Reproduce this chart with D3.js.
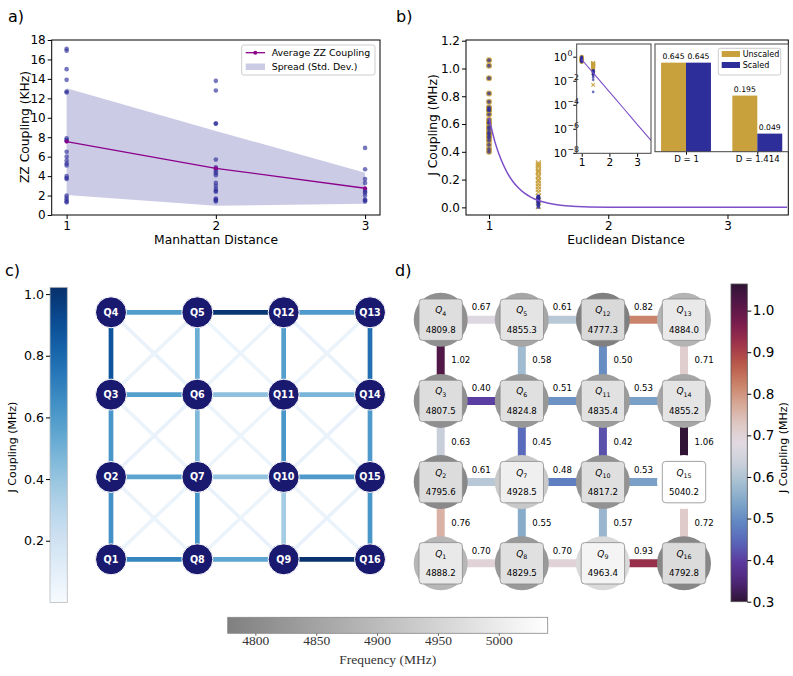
<!DOCTYPE html>
<html><head><meta charset="utf-8">
<script src="https://cdn.jsdelivr.net/npm/d3@7"></script>
<style>
body{margin:0;background:#fff}
text{font-family:"DejaVu Sans",sans-serif}
</style></head><body>
<svg id="fig" width="793" height="676"></svg>
<script>
// ---------- data ----------
// a) ZZ coupling vs Manhattan distance
const aDist = [1, 2, 3];
const aMean = [7.55, 4.8, 2.75];
const aStd = [5.5, 3.85, 1.6];
const zzD1 = [17.1, 16.9, 15.0, 13.9, 12.7, 12.6, 7.9, 7.7, 7.6, 6.5, 6.0, 5.6, 5.3, 5.1, 4.0, 3.8, 3.7, 2.0, 1.8, 1.6, 1.4, 1.3];
const zzD2 = [13.8, 12.8, 9.4, 9.4, 5.7, 4.9, 4.7, 4.5, 4.3, 4.1, 3.3, 3.0, 2.7, 2.5, 2.4, 1.7, 1.6, 1.5, 1.4];
const zzD3 = [6.9, 4.7, 3.7, 3.3, 2.6, 2.4, 2.3, 2.0, 1.6, 1.5, 1.4];

// b) J coupling vs Euclidean distance
const jNN = [0.67, 0.61, 0.82, 1.02, 0.58, 0.50, 0.71, 0.40, 0.51, 0.53, 0.63, 0.45, 0.42, 1.06, 0.61, 0.48, 0.53, 0.76, 0.55, 0.57, 0.72, 0.70, 0.70, 0.93];
const jDiagUnscaled = [0.32, 0.31, 0.30, 0.29, 0.27, 0.26, 0.25, 0.23, 0.22, 0.20, 0.19, 0.17, 0.15, 0.13, 0.11, 0.08, 0.05, 0.005];
const jDiagScaled = [0.080, 0.078, 0.075, 0.073, 0.068, 0.065, 0.063, 0.058, 0.055, 0.050, 0.048, 0.043, 0.038, 0.033, 0.028, 0.020, 0.013, 0.0013];
const fitCurve = [[1.0, 0.645], [1.05, 0.47], [1.1, 0.346], [1.15, 0.254], [1.2, 0.186], [1.25, 0.137], [1.3, 0.10], [1.35, 0.074], [1.414, 0.049], [1.5, 0.029], [1.6, 0.0155], [1.7, 0.0083], [1.8, 0.0045], [2.0, 0.0013], [2.25, 2.8e-4], [2.5, 5.9e-5], [2.75, 1.25e-5], [3.0, 2.6e-6], [3.25, 5.6e-7], [3.5, 1.2e-7]];
const barGroups = ["D = 1", "D = 1.414"];
const barUnscaled = [0.645, 0.195];
const barScaled = [0.645, 0.049];

// c) / d) qubit grid
const gridRows = [["Q4", "Q5", "Q12", "Q13"], ["Q3", "Q6", "Q11", "Q14"], ["Q2", "Q7", "Q10", "Q15"], ["Q1", "Q8", "Q9", "Q16"]];
const cEdges = [["Q4","Q5",0.59],["Q5","Q12",1.00],["Q12","Q13",0.60],["Q3","Q6",0.58],["Q6","Q11",0.42],["Q11","Q14",0.48],
  ["Q2","Q7",0.56],["Q7","Q10",0.41],["Q10","Q15",0.60],["Q1","Q8",0.69],["Q8","Q9",0.55],["Q9","Q16",1.01],
  ["Q4","Q3",0.88],["Q5","Q6",0.51],["Q12","Q11",0.58],["Q13","Q14",0.77],["Q3","Q2",0.62],["Q6","Q7",0.46],
  ["Q11","Q10",0.62],["Q14","Q15",0.60],["Q2","Q1",0.64],["Q7","Q8",0.62],["Q10","Q9",0.36],["Q15","Q16",0.62]];
const cDiag = [["Q4","Q6",0.07],["Q5","Q3",0.06],["Q5","Q11",0.05],["Q12","Q6",0.06],["Q12","Q14",0.07],["Q13","Q11",0.06],
  ["Q3","Q7",0.06],["Q6","Q2",0.07],["Q6","Q10",0.06],["Q11","Q7",0.05],["Q11","Q15",0.06],["Q14","Q10",0.07],
  ["Q2","Q8",0.06],["Q7","Q1",0.06],["Q7","Q9",0.07],["Q10","Q8",0.06],["Q10","Q16",0.06],["Q15","Q9",0.07]];
const freqs = {Q4:4809.8, Q5:4855.3, Q12:4777.3, Q13:4884.0, Q3:4807.5, Q6:4824.8, Q11:4835.4, Q14:4855.2,
  Q2:4795.6, Q7:4928.5, Q10:4817.2, Q15:5040.2, Q1:4888.2, Q8:4829.5, Q9:4963.4, Q16:4792.8};
const dEdges = [["Q4","Q5",0.67],["Q5","Q12",0.61],["Q12","Q13",0.82],["Q3","Q6",0.40],["Q6","Q11",0.51],["Q11","Q14",0.53],
  ["Q2","Q7",0.61],["Q7","Q10",0.48],["Q10","Q15",0.53],["Q1","Q8",0.70],["Q8","Q9",0.70],["Q9","Q16",0.93],
  ["Q4","Q3",1.02],["Q5","Q6",0.58],["Q12","Q11",0.50],["Q13","Q14",0.71],["Q3","Q2",0.63],["Q6","Q7",0.45],
  ["Q11","Q10",0.42],["Q14","Q15",1.06],["Q2","Q1",0.76],["Q7","Q8",0.55],["Q10","Q9",0.57],["Q15","Q16",0.72]];
const freqTicks = [4800, 4850, 4900, 4950, 5000];

// ---------- helpers ----------
const svg = d3.select("#fig");
svg.append("rect").attr("width", 793).attr("height", 676).attr("fill", "#fff");
const defs = svg.append("defs");
const NAVY = "#2e2e9a", GOLD = "#c8a03c";

function tidy(g, size) {
  g.select(".domain").remove();
  g.selectAll(".tick text").style("font-size", size + "px").attr("fill", "#000");
  g.selectAll(".tick line").attr("stroke", "#000");
}
function frame(g, x0, y0, x1, y1, col) {
  g.append("rect").attr("x", x0).attr("y", y0).attr("width", x1 - x0).attr("height", y1 - y0)
    .attr("fill", "none").attr("stroke", col || "#000").attr("stroke-width", 1);
}
function panelLabel(t, x, y) {
  svg.append("text").attr("x", x).attr("y", y).style("font-size", "16px").text(t);
}

// ---------- a) ----------
const ax = d3.scaleLinear().domain([0.9, 3.1]).range([51.7, 380]);
const ay = d3.scaleLinear().domain([0, 18]).range([215, 40]);
const gA = svg.append("g");
gA.append("path")
  .datum(aDist.map((d, i) => ({ d, lo: aMean[i] - aStd[i], hi: aMean[i] + aStd[i] })))
  .attr("d", d3.area().x(p => ax(p.d)).y0(p => ay(p.lo)).y1(p => ay(p.hi)))
  .attr("fill", NAVY).attr("opacity", 0.25);
const zzAll = [zzD1, zzD2, zzD3].flatMap((arr, i) => arr.map(v => ({ d: aDist[i], v })));
gA.selectAll("circle.pt").data(zzAll).join("circle")
  .attr("cx", p => ax(p.d)).attr("cy", p => ay(p.v)).attr("r", 2.3)
  .attr("fill", NAVY).attr("opacity", 0.65);
gA.append("path").datum(aDist.map((d, i) => [d, aMean[i]]))
  .attr("d", d3.line().x(p => ax(p[0])).y(p => ay(p[1])))
  .attr("fill", "none").attr("stroke", "#8b008b").attr("stroke-width", 1.3);
gA.selectAll("circle.mean").data(aDist).join("circle")
  .attr("cx", d => ax(d)).attr("cy", (d, i) => ay(aMean[i])).attr("r", 2).attr("fill", "#8b008b");
gA.append("g").attr("transform", "translate(51.7,0)")
  .call(d3.axisLeft(ay).ticks(9).tickSize(4).tickPadding(2)).call(g => tidy(g, 12));
gA.append("g").attr("transform", "translate(0,215)")
  .call(d3.axisBottom(ax).tickValues(aDist).tickFormat(d3.format("d")).tickSize(4).tickPadding(2)).call(g => tidy(g, 12));
frame(gA, 51.7, 40, 380, 215);
gA.append("text").attr("x", 216).attr("y", 244).attr("text-anchor", "middle").style("font-size", "12.3px").text("Manhattan Distance");
gA.append("text").attr("transform", "translate(25,127) rotate(-90)").attr("text-anchor", "middle")
  .attr("dominant-baseline", "central").style("font-size", "12.3px").text("ZZ Coupling (KHz)");
// legend
const lgA = gA.append("g");
lgA.append("rect").attr("x", 241.7).attr("y", 45).attr("width", 133.3).attr("height", 30).attr("rx", 2)
  .attr("fill", "#fff").attr("fill-opacity", 0.8).attr("stroke", "#ccc");
lgA.append("line").attr("x1", 245.7).attr("x2", 265).attr("y1", 52.7).attr("y2", 52.7).attr("stroke", "#8b008b").attr("stroke-width", 1.3);
lgA.append("circle").attr("cx", 255.3).attr("cy", 52.7).attr("r", 2).attr("fill", "#8b008b");
lgA.append("rect").attr("x", 245.7).attr("y", 63.5).attr("width", 19.3).attr("height", 6.5).attr("fill", NAVY).attr("opacity", 0.25);
lgA.append("text").attr("x", 271.7).attr("y", 52.7).attr("dominant-baseline", "central").style("font-size", "9.4px").text("Average ZZ Coupling");
lgA.append("text").attr("x", 271.7).attr("y", 66.7).attr("dominant-baseline", "central").style("font-size", "9.4px").text("Spread (Std. Dev.)");
panelLabel("a)", 8, 22);

// ---------- b) ----------
const bx = d3.scaleLinear().domain([0.807, 3.51]).range([466, 788.3]);
const by = d3.scaleLinear().domain([-0.055, 1.205]).range([215, 40]);
const gB = svg.append("g");
defs.append("clipPath").attr("id", "clipB").append("rect")
  .attr("x", 466).attr("y", 40).attr("width", 322.3).attr("height", 175);
const nnPts = jNN.map(v => ({ d: 1, v }));
const diagU = jDiagUnscaled.map(v => ({ d: 1.414, v }));
const diagS = jDiagScaled.map(v => ({ d: 1.414, v }));
const xMark = "M-2.5,-2.5L2.5,2.5M-2.5,2.5L2.5,-2.5";

function drawScatter(g, sx, sy, k) {
  g.selectAll(null).data(nnPts).join("circle")
    .attr("cx", p => sx(p.d)).attr("cy", p => sy(p.v)).attr("r", 3 * k).attr("fill", GOLD).attr("opacity", 0.9);
  g.selectAll(null).data(diagU).join("path")
    .attr("transform", p => `translate(${sx(p.d)},${sy(p.v)}) scale(${k})`).attr("d", xMark)
    .attr("stroke", GOLD).attr("stroke-width", 1.2 / k).attr("fill", "none").attr("opacity", 0.9);
  g.selectAll(null).data(nnPts.concat(diagS)).join("circle")
    .attr("cx", p => sx(p.d)).attr("cy", p => sy(p.v)).attr("r", 1.9 * k).attr("fill", NAVY).attr("opacity", 0.7);
}
const gBplot = gB.append("g").attr("clip-path", "url(#clipB)");
drawScatter(gBplot, bx, by, 1);
gBplot.append("path").datum(fitCurve)
  .attr("d", d3.line().x(p => bx(p[0])).y(p => by(p[1])).curve(d3.curveMonotoneX))
  .attr("fill", "none").attr("stroke", "#7d4fc8").attr("stroke-width", 1.5);
gB.append("g").attr("transform", "translate(466,0)")
  .call(d3.axisLeft(by).tickValues([0, 0.2, 0.4, 0.6, 0.8, 1.0, 1.2]).tickFormat(d3.format(".1f")).tickSize(4).tickPadding(2))
  .call(g => tidy(g, 12));
gB.append("g").attr("transform", "translate(0,215)")
  .call(d3.axisBottom(bx).tickValues([1, 2, 3]).tickFormat(d3.format("d")).tickSize(4).tickPadding(2))
  .call(g => tidy(g, 12));
frame(gB, 466, 40, 788.3, 215);
gB.append("text").attr("x", 626).attr("y", 244).attr("text-anchor", "middle").style("font-size", "12.3px").text("Euclidean Distance");
gB.append("text").attr("transform", "translate(433,125) rotate(-90)").attr("text-anchor", "middle")
  .attr("dominant-baseline", "central").style("font-size", "12.3px").text("J Coupling (MHz)");

// inset 1: log scale
const ix = d3.scaleLinear().domain([0.82, 3.5]).range([576.7, 651]);
const iy = d3.scaleLog().domain([1e-8, 12.6]).range([153.3, 44]);
const gI = gB.append("g");
gI.append("rect").attr("x", 576.7).attr("y", 44).attr("width", 74.3).attr("height", 109.3).attr("fill", "#fff");
defs.append("clipPath").attr("id", "clipI").append("rect")
  .attr("x", 576.7).attr("y", 44).attr("width", 74.3).attr("height", 109.3);
const gIplot = gI.append("g").attr("clip-path", "url(#clipI)");
drawScatter(gIplot, ix, iy, 0.7);
gIplot.append("path").datum(fitCurve)
  .attr("d", d3.line().x(p => ix(p[0])).y(p => iy(p[1])))
  .attr("fill", "none").attr("stroke", "#7d4fc8").attr("stroke-width", 1.1);
const logTicks = [1, 1e-2, 1e-4, 1e-6, 1e-8];
logTicks.forEach(t => {
  const y = iy(t);
  const e = Math.round(Math.log10(t));
  gI.append("line").attr("x1", 573.2).attr("x2", 576.7).attr("y1", y).attr("y2", y).attr("stroke", "#000");
  gI.append("text").attr("x", 567).attr("y", y + 4).attr("text-anchor", "end").style("font-size", "10.5px").text("10");
  gI.append("text").attr("x", 567.4).attr("y", y - 1.5).style("font-size", "7.8px")
    .text(e === 0 ? "0" : "\u2212" + Math.abs(e));
});
gI.append("g").attr("transform", "translate(0,153.3)")
  .call(d3.axisBottom(ix).tickValues([1, 2, 3]).tickFormat(d3.format("d")).tickSize(3.5).tickPadding(1.5))
  .call(g => tidy(g, 10.5));
frame(gI, 576.7, 44, 651, 153.3, "#444");

// inset 2: bars (log y)
const gx = d3.scaleLinear().domain([-0.435, 1.435]).range([655, 788.3]);
const gy = d3.scaleLog().domain([0.0254, 1.27]).range([151.7, 44]);
const bw = gx(0.35) - gx(0);
const gBar = gB.append("g");
gBar.append("rect").attr("x", 655).attr("y", 44).attr("width", 133.3).attr("height", 107.7).attr("fill", "#fff");
const barData = barGroups.flatMap((g, i) => [
  { i, v: barUnscaled[i], off: -0.35, c: GOLD },
  { i, v: barScaled[i], off: 0, c: NAVY }]);
gBar.selectAll("rect.bar").data(barData).join("rect")
  .attr("x", d => gx(d.i + d.off)).attr("width", bw)
  .attr("y", d => gy(d.v)).attr("height", d => 151.7 - gy(d.v)).attr("fill", d => d.c);
gBar.selectAll("text.val").data(barData).join("text")
  .attr("x", d => gx(d.i + d.off) + bw / 2).attr("y", d => gy(d.v) - 3.5)
  .attr("text-anchor", "middle").style("font-size", "7.7px").text(d => d3.format(".3f")(d.v));
gBar.append("g").attr("transform", "translate(0,151.7)")
  .call(d3.axisBottom(gx).tickValues([0, 1]).tickFormat(i => barGroups[i]).tickSize(3).tickPadding(1.5))
  .call(g => tidy(g, 8.6));
frame(gBar, 655, 44, 788.3, 151.7, "#444");
const lgB = gBar.append("g");
lgB.append("rect").attr("x", 718.3).attr("y", 48.3).attr("width", 62.4).attr("height", 26.7).attr("rx", 2)
  .attr("fill", "#fff").attr("stroke", "#ccc");
[["Unscaled", GOLD, 54], ["Scaled", NAVY, 65]].forEach(([t, c, y]) => {
  lgB.append("rect").attr("x", 721.7).attr("y", y - 3).attr("width", 18.3).attr("height", 6).attr("fill", c);
  lgB.append("text").attr("x", 742.7).attr("y", y).attr("dominant-baseline", "central").style("font-size", "8px").text(t);
});
panelLabel("b)", 396, 22);

// ---------- c) ----------
const cx = d3.scalePoint().domain([0, 1, 2, 3]).range([111, 370]);
const cy = d3.scalePoint().domain([0, 1, 2, 3]).range([312.3, 559.3]);
const dx = d3.scalePoint().domain([0, 1, 2, 3]).range([440.7, 684]);
const dy = d3.scalePoint().domain([0, 1, 2, 3]).range([319.7, 563.3]);
const posC = {}, posD = {};
gridRows.forEach((row, r) => row.forEach((q, c) => {
  posC[q] = [cx(c), cy(r)];
  posD[q] = [dx(c), dy(r)];
}));
const blueMax = 1.022;
const blue = v => d3.interpolateBlues(v / blueMax);
const gC = svg.append("g");
gC.selectAll("line.diag").data(cDiag).join("line")
  .attr("x1", e => posC[e[0]][0]).attr("y1", e => posC[e[0]][1])
  .attr("x2", e => posC[e[1]][0]).attr("y2", e => posC[e[1]][1])
  .attr("stroke", e => blue(e[2])).attr("stroke-width", 3.5);
gC.selectAll("line.nn").data(cEdges).join("line")
  .attr("x1", e => posC[e[0]][0]).attr("y1", e => posC[e[0]][1])
  .attr("x2", e => posC[e[1]][0]).attr("y2", e => posC[e[1]][1])
  .attr("stroke", e => blue(e[2])).attr("stroke-width", 4.7);
const nodesC = gC.selectAll("g.node").data(Object.keys(posC)).join("g")
  .attr("transform", q => `translate(${posC[q][0]},${posC[q][1]})`);
nodesC.append("circle").attr("r", 15.5).attr("fill", "#191970").attr("stroke", "#fff").attr("stroke-width", 1);
nodesC.append("text").attr("text-anchor", "middle").attr("dominant-baseline", "central")
  .attr("fill", "#fff").style("font-size", "9.6px").style("font-weight", "bold").text(q => q);
// colorbar c
const gradC = defs.append("linearGradient").attr("id", "gradC").attr("x1", 0).attr("y1", 1).attr("x2", 0).attr("y2", 0);
d3.range(0, 1.0001, 0.05).forEach(t => gradC.append("stop").attr("offset", t).attr("stop-color", d3.interpolateBlues(t)));
const cbC = d3.scaleLinear().domain([0, blueMax]).range([602.4, 287.3]);
gC.append("rect").attr("x", 50).attr("y", 287.3).attr("width", 17.3).attr("height", 315.1)
  .attr("fill", "url(#gradC)").attr("stroke", "#bbb").attr("stroke-width", 0.8);
gC.append("g").attr("transform", "translate(50,0)")
  .call(d3.axisLeft(cbC).tickValues([0.2, 0.4, 0.6, 0.8, 1.0]).tickFormat(d3.format(".1f")).tickSize(4).tickPadding(2))
  .call(g => tidy(g, 12.6));
gC.append("text").attr("transform", "translate(12.5,447) rotate(-90)").attr("text-anchor", "middle")
  .attr("dominant-baseline", "central").style("font-size", "11px").text("J Coupling (MHz)");
panelLabel("c)", 5, 276);

// ---------- d) ----------
const twStops = ["#2f1436", "#4f2678", "#5b3a9e", "#5966ba", "#6187c2", "#80a6c9", "#a6bfd1", "#ccd1db", "#e2d9e2",
  "#dec7c2", "#d6a694", "#c98066", "#b8574a", "#9e334a", "#7a1c4d", "#541747", "#2f1436"];
const twilight = d3.scaleLinear().domain(twStops.map((c, i) => i / (twStops.length - 1))).range(twStops).interpolate(d3.interpolateRgb);
const jMin = 0.3, jMax = 1.064;
const jColor = v => twilight((v - jMin) / (jMax - jMin));
const fMin = 4777.3, fMax = 5040.2;
const gray = d3.scaleLinear().domain([fMin, fMax]).range(["#808080", "#ffffff"]);
const gD = svg.append("g");
const isH = e => posD[e[0]][1] === posD[e[1]][1];
gD.selectAll("line.edge").data(dEdges).join("line")
  .attr("x1", e => posD[e[0]][0]).attr("y1", e => posD[e[0]][1])
  .attr("x2", e => posD[e[1]][0]).attr("y2", e => posD[e[1]][1])
  .attr("stroke", e => jColor(e[2])).attr("stroke-width", 8);
gD.selectAll("text.elab").data(dEdges).join("text")
  .attr("x", e => isH(e) ? (posD[e[0]][0] + posD[e[1]][0]) / 2 : posD[e[0]][0] + 10.5)
  .attr("y", e => isH(e) ? posD[e[0]][1] - 12.5 : (posD[e[0]][1] + posD[e[1]][1]) / 2)
  .attr("text-anchor", e => isH(e) ? "middle" : "start")
  .attr("dominant-baseline", "central").style("font-size", "8.6px").text(e => d3.format(".2f")(e[2]));
const nodesD = gD.selectAll("g.node").data(Object.keys(posD)).join("g")
  .attr("transform", q => `translate(${posD[q][0]},${posD[q][1]})`);
nodesD.append("circle").attr("r", 27).attr("fill", q => gray(freqs[q]));
nodesD.append("rect").attr("x", -21.7).attr("y", -20.7).attr("width", 43.4).attr("height", 41.4).attr("rx", 3.5)
  .attr("fill", q => d3.interpolateRgb(gray(freqs[q]), "#fff")(0.7)).attr("stroke", "#8a8a8a").attr("stroke-width", 0.8);
const qLab = nodesD.append("text").attr("text-anchor", "middle").attr("y", -6.5).style("font-size", "9px");
qLab.append("tspan").style("font-style", "italic").text("Q");
qLab.append("tspan").attr("dy", 2.5).style("font-size", "6.3px").text(q => q.slice(1));
nodesD.append("text").attr("text-anchor", "middle").attr("y", 13).style("font-size", "8.6px").text(q => d3.format(".1f")(freqs[q]));
// colorbar d
const gradD = defs.append("linearGradient").attr("id", "gradD").attr("x1", 0).attr("y1", 1).attr("x2", 0).attr("y2", 0);
d3.range(0, 1.0001, 0.025).forEach(t => gradD.append("stop").attr("offset", t).attr("stop-color", twilight(t)));
const cbD = d3.scaleLinear().domain([jMin, jMax]).range([601.7, 284]);
gD.append("rect").attr("x", 731).attr("y", 284).attr("width", 16.3).attr("height", 317.7)
  .attr("fill", "url(#gradD)").attr("stroke", "#555").attr("stroke-width", 0.8);
gD.append("g").attr("transform", "translate(747.3,0)")
  .call(d3.axisRight(cbD).tickValues([0.3, 0.4, 0.5, 0.6, 0.7, 0.8, 0.9, 1.0]).tickFormat(d3.format(".1f")).tickSize(4).tickPadding(1.5))
  .call(g => tidy(g, 13.5));
gD.append("text").attr("transform", "translate(783,447.5) rotate(-90)").attr("text-anchor", "middle")
  .attr("dominant-baseline", "central").style("font-size", "11px").text("J Coupling (MHz)");
panelLabel("d)", 395, 276);

// ---------- frequency colorbar ----------
const fx = d3.scaleLinear().domain([fMin, fMax]).range([227.7, 547.7]);
const gradF = defs.append("linearGradient").attr("id", "gradF");
gradF.append("stop").attr("offset", 0).attr("stop-color", gray(fMin));
gradF.append("stop").attr("offset", 1).attr("stop-color", gray(fMax));
const gF = svg.append("g");
gF.append("rect").attr("x", 227.7).attr("y", 617.3).attr("width", 320).attr("height", 16)
  .attr("fill", "url(#gradF)").attr("stroke", "#888").attr("stroke-width", 0.8);
gF.append("g").attr("transform", "translate(0,633.3)")
  .call(d3.axisBottom(fx).tickValues(freqTicks).tickFormat(d3.format("d")).tickSize(2.5).tickPadding(0))
  .call(g => {
    tidy(g, 13.5);
    g.selectAll(".tick text").style("font-family", "'Liberation Serif',serif").attr("fill", "#333");
    g.selectAll(".tick line").attr("stroke", "#666");
  });
gF.append("text").attr("x", 387.7).attr("y", 664).attr("text-anchor", "middle")
  .style("font-family", "'Liberation Serif',serif").style("font-size", "13.5px").attr("fill", "#333").text("Frequency (MHz)");
</script>
</body></html>
